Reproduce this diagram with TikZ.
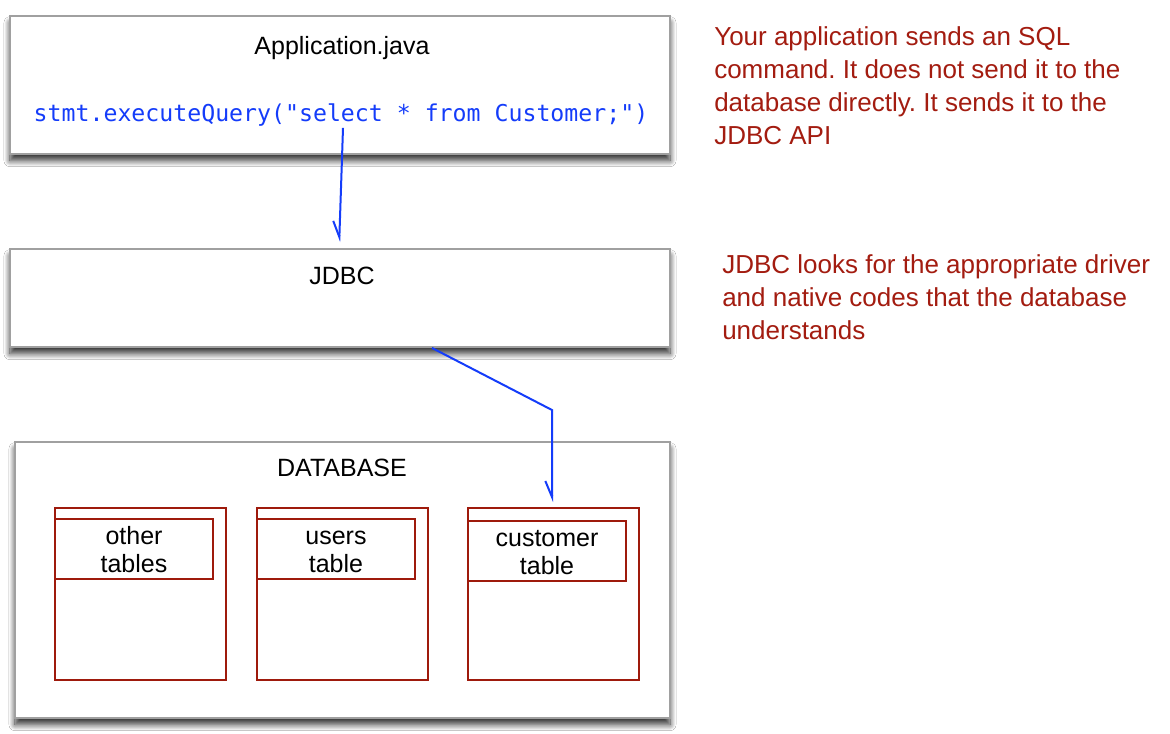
\documentclass[tikz,border=0pt]{standalone}
\usepackage{fontspec}
\setmainfont{Liberation Sans}
\setmonofont{DejaVu Sans Mono}
\usetikzlibrary{arrows.meta,shadows.blur}
\definecolor{boxgrey}{RGB}{160,160,160}
\definecolor{tablered}{RGB}{158,26,12}
\definecolor{notered}{RGB}{163,28,16}
\definecolor{codeblue}{RGB}{20,60,250}
\frenchspacing

\begin{document}
\begin{tikzpicture}[x=0.75pt,y=-0.75pt,
    >={Straight Barb[harpoon,swap,length=12pt,width=10pt]},
    layer/.style={draw=boxgrey,line width=1.4pt,fill=white,minimum width=495pt,
      blur shadow={shadow xshift=0pt,shadow yshift=-5pt,shadow blur radius=4.5pt,
        shadow blur steps=12,shadow opacity=80}},
    lbl/.style={inner sep=0pt,font=\fontsize{18.75}{21}\selectfont},
    code/.style={inner sep=1pt,text=codeblue,font=\ttfamily\fontsize{17.4}{20}\selectfont},
    tbl/.style={draw=tablered,line width=1.5pt,minimum width=128.25pt,minimum height=129pt},
    tblhead/.style={draw=tablered,line width=1.5pt,minimum width=118.5pt,minimum height=45pt,
      inner sep=0pt,align=center,anchor=north west,font=\fontsize{18.75}{21}\selectfont},
    note/.style={inner sep=0pt,anchor=north west,align=left,text=notered,
      font=\fontsize{19.5}{24.75}\selectfont},
    flow/.style={->,draw=codeblue,line width=1.5pt}]
  \fill[white] (0,0) rectangle (1170,733);
  \useasboundingbox (0,0) rectangle (1170,733);

  % the three layers
  \node[layer,minimum height=103.5pt] (app) at (340,85) {};
  \node[layer,minimum height=73.5pt] (jdbc) at (340,298) {};
  \node[layer,minimum width=491.25pt,minimum height=207pt] (db) at (342.5,580) {};

  \node[lbl] (apptitle) at (342,48) {Application.java};
  \node[code] (query) at (341,115) {stmt.executeQuery("select * from Customer;")};
  \node[lbl] (jdbctitle) at (342,276) {JDBC};
  \node[lbl] (dbtitle) at (342,468) {DATABASE};

  % tables inside the database
  \node[tbl] (other) at (140.5,594) {};
  \node[tblhead] (otherhead) at ([yshift=-8.25pt]other.north west) {\strut other\\tables};
  \node[tbl] (users) at (342.5,594) {};
  \node[tblhead] (usershead) at ([yshift=-8.25pt]users.north west) {\strut users\\table};
  \node[tbl] (cust) at (553.5,594) {};
  \node[tblhead] (custhead) at ([yshift=-9.75pt]cust.north west) {\strut customer\\table};

  % notes
  \node[note] (note1) at (714,26) {Your application sends an SQL\\command. It does not send it to the\\database directly. It sends it to the\\JDBC API};
  \node[note] (note2) at (722,254) {JDBC looks for the appropriate driver\\and native codes that the database\\understands};

  % calls
  \coordinate (bend) at (552,410);
  \draw[flow,shorten >=4.5pt] ([xshift=1.5pt]query.south) -- ([xshift=-0.75pt]jdbc.north);
  \draw[flow,shorten >=3.75pt] ([xshift=69pt]jdbc.south) -- (bend) -- (bend |- cust.north);
\end{tikzpicture}
\end{document}
